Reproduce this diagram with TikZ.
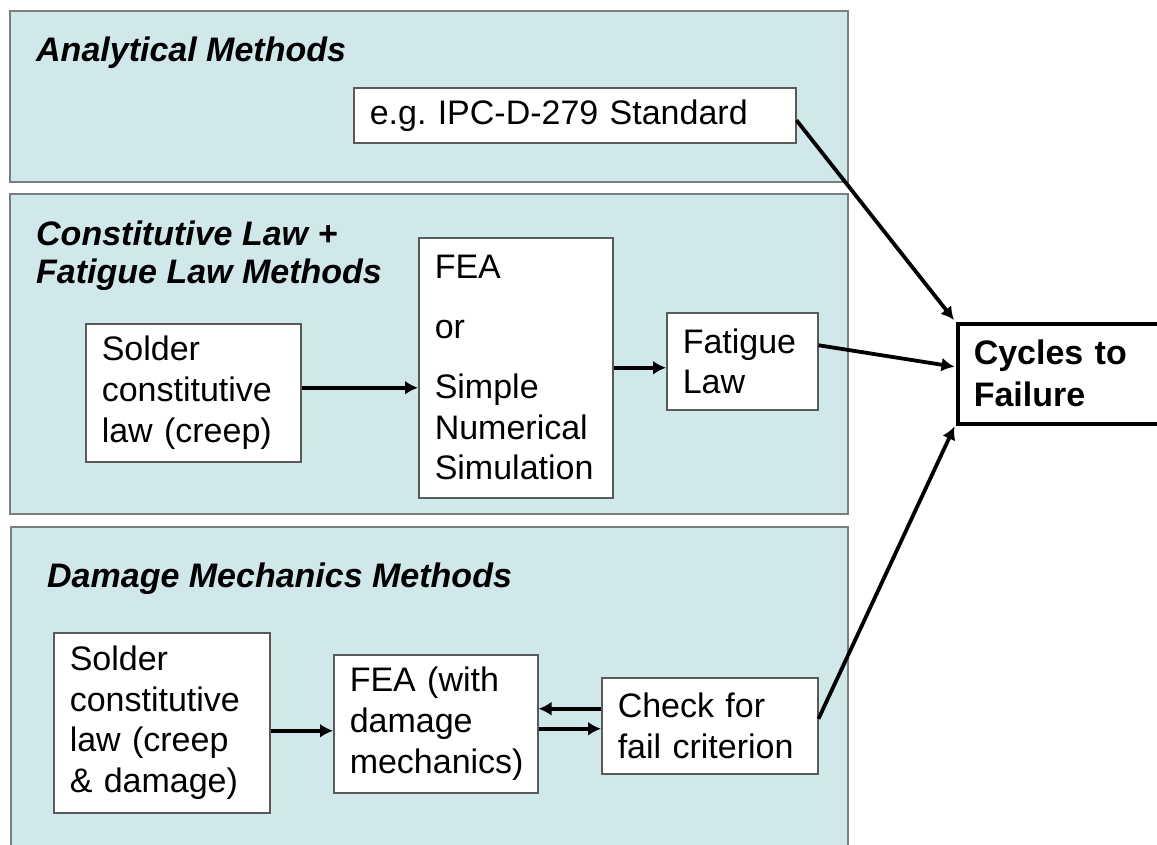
\documentclass[tikz,border=0pt]{standalone}
\usepackage{fontspec}
\setmainfont{Liberation Sans}
\usetikzlibrary{arrows.meta,calc}
\definecolor{panelfill}{RGB}{208,232,234}
\definecolor{panelline}{RGB}{120,128,128}
\definecolor{boxline}{RGB}{90,90,90}
\tikzset{
  panel/.style={draw=panelline, line width=1.5pt, fill=panelfill},
  stepbox/.style={draw=boxline, line width=1.5pt, fill=white, align=left,
    inner xsep=16pt, inner ysep=0pt, anchor=north west,
    font=\fontsize{34}{40.8}\selectfont},
  resultbox/.style={stepbox, draw=black, line width=3.5pt, font=\fontsize{34}{42}\selectfont\bfseries},
  ptitle/.style={anchor=base west, inner sep=0pt, font=\fontsize{34}{38}\selectfont\bfseries\itshape},
  flow/.style={line width=3.8pt, -{Latex[length=13pt,width=14pt]}},
}
\newcommand{\mkbox}[7]{% style, name, x1, y1, x2, y2, text
  \pgfmathsetmacro{\bw}{#5-#3}\pgfmathsetmacro{\bh}{#6-#4}\pgfmathsetmacro{\tw}{#5-#3-32}
  \node[#1, minimum width=\bw pt, minimum height=\bh pt, text width=\tw pt] (#2) at (#3,#4) {#7};}
\begin{document}
\frenchspacing
\begin{tikzpicture}[x=1pt,y=-1pt]
\useasboundingbox (0,0) rectangle (1157,844);
\clip (0,0) rectangle (1157,844);
% panels
\draw[panel] (10,11) rectangle (848,182);
\draw[panel] (10,194) rectangle (848,514);
\draw[panel] (11,527) rectangle (848,870);
% titles
\node[ptitle] (t1) at (36,61) {Analytical Methods};
\node[ptitle] (t2a) at (36,245) {Constitutive Law +};
\node[ptitle] (t2b) at (36,283) {Fatigue Law Methods};
\node[ptitle] (t3) at (47,587) {Damage Mechanics Methods};
% boxes
\mkbox{stepbox}{ipc}{353}{87}{795}{142}{\frenchspacing e.g. IPC-D-279 Standard}
\mkbox{stepbox}{sola}{85}{323}{300}{461}{Solder\\constitutive\\law (creep)}
\mkbox{stepbox}{fea}{418}{237}{612}{497}{FEA\\[19pt]or\\[19pt]Simple\\Numerical\\Simulation}
\mkbox{stepbox}{fat}{666}{312}{817}{409}{Fatigue\\Law}
\mkbox{resultbox}{cyc}{956}{322}{1180}{422}{Cycles to\\Failure}
\mkbox{stepbox}{solb}{53}{632}{269}{812}{Solder\\constitutive\\law (creep\\\& damage)}
\mkbox{stepbox}{feab}{333}{654}{537}{792}{FEA (with\\damage\\mechanics)}
\mkbox{stepbox}{chk}{601}{677}{817}{773}{Check for\\fail criterion}
% connectors
\draw[flow] ([yshift=-5pt]ipc.east) -- ([xshift=-2pt,yshift=2pt]cyc.north west);
\draw[flow] ([yshift=16pt]fat.east) -- ([xshift=-1.5pt,yshift=7pt]cyc.west);
\draw[flow] ([yshift=7pt]chk.east) -- ([xshift=-1.5pt,yshift=-1pt]cyc.south west);
\draw[flow] ([yshift=5pt]sola.east) -- ([yshift=5pt]sola.east -| fea.west);
\draw[flow] (fea.east) -- (fea.east -| fat.west);
\draw[flow] ([yshift=-8pt]solb.east) -- ([yshift=-8pt]solb.east -| feab.west);
\draw[flow] ([yshift=17pt]chk.west) -- ([yshift=17pt]chk.west -| feab.east);
\draw[flow] ([yshift=-5pt]feab.east) -- ([yshift=-5pt]feab.east -| chk.west);
\end{tikzpicture}
\end{document}
